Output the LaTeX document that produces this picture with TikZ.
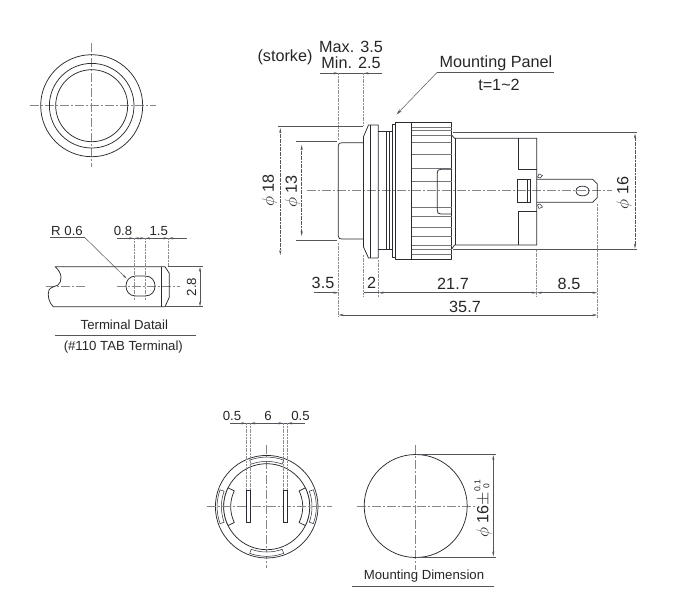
\documentclass[tikz,border=0pt]{standalone}
\usepackage{fontspec}
\setmainfont{Liberation Sans}
\usetikzlibrary{arrows.meta}
\definecolor{ink}{HTML}{2B2B33}
\definecolor{dimc}{HTML}{55555C}
\definecolor{cen}{HTML}{85858A}
\definecolor{ext}{HTML}{8E8E93}
\tikzset{
  x=1pt,y=-1pt,
  obj/.style={draw=ink,line width=0.75pt,line join=round},
  thinobj/.style={draw=ink,line width=0.5pt},
  ridge/.style={draw=ink!65,line width=0.6pt},
  center line/.style={draw=cen,line width=0.45pt,dash pattern=on 9pt off 2pt on 2pt off 2pt},
  extline/.style={draw=ext,line width=0.45pt,dash pattern=on 2pt off 0.7pt},
  dimline/.style={draw=dimc,line width=0.5pt},
  dimarrows/.style={dimline,{Stealth[length=5pt,width=2.2pt]}-{Stealth[length=5pt,width=2.2pt]}},
  dimend/.style={dimline,-{Stealth[length=5pt,width=2.2pt]}},
  lab/.style={inner sep=0pt,text=black!85,font=\fontsize{16.2}{18}\selectfont},
  smalllab/.style={inner sep=0pt,text=black!85,font=\fontsize{13.2}{15}\selectfont},
  rule/.style={draw=dimc,line width=0.55pt,double distance=0.9pt}
}
\begin{document}
\begin{tikzpicture}
\useasboundingbox (0,0) rectangle (680,598);
% ---- front view
\draw[center line] (30,105.7) -- (156,105.7);
\draw[center line] (91.7,43) -- (91.7,167);
\foreach \r in {51,42.3,36}{\draw[obj] (91.7,105.7) circle[radius=\r];}
% ---- main side view
\draw[center line] (307,190.7) -- (612,190.7);
% button
\draw[obj] (338.2,236) -- (338.2,146) .. controls (338.2,143.5) and (339.5,142.7) .. (342,142.7) -- (363.5,142.7);
\draw[obj] (338.2,236) .. controls (338.2,238.5) and (340,239) .. (342,239) -- (363.5,239);
% flange
\draw[obj] (363.5,136.7) -- (368.5,125) -- (378.3,125) -- (378.3,258) -- (368.5,258) -- (363.5,247) -- cycle;
\draw[thinobj] (370.5,125) -- (370.5,258);
% neck
\draw[obj] (378.3,131.7) -- (392.7,131.7);
\draw[obj] (378.3,249) -- (392.7,249);
\draw[thinobj] (386,131.7) -- (386,249);
\draw[thinobj] (389,131.7) -- (389,249);
% nut
\draw[obj] (392.7,124.5) -- (395,124.5) -- (395,122.7) -- (451.7,122.7) -- (451.7,259.3) -- (395,259.3) -- (395,257) -- (392.7,257) -- cycle;
\draw[obj] (395,122.7) -- (395,259.3);
\draw[obj] (411.7,122.7) -- (411.7,259.3);
\foreach \y in {127.3,130.7,135,142.7,154.3,168.3,181,207,216,227.3,236.7,245,249.3,254}{\draw[ridge] (411.7,\y) -- (451.7,\y);}
\draw[obj] (451.7,169.3) -- (441,169.3) .. controls (438,169.3) and (437.3,170.5) .. (437.3,173) -- (437.3,210) .. controls (437.3,213) and (438,214) .. (441,214) -- (451.7,214);
% body
\draw[obj] (451.7,135) -- (454.5,138.3) -- (536.7,138.3) -- (536.7,245) -- (454.5,245) -- (451.7,249);
\draw[thinobj] (455.5,138.3) -- (455.5,245);
\draw[thinobj] (518.3,138.3) -- (518.3,169) -- (536.7,169);
\draw[thinobj] (518.3,245) -- (518.3,211.7) -- (536.7,211.7);
\draw[thinobj] (517.3,179.3) rectangle (530,202);
\draw[thinobj] (527,179.3) -- (527,202);
% terminal
\draw[obj] (536.7,179.3) -- (592.7,179.3) -- (597.3,184) -- (597.3,197.5) -- (592.7,202.3) -- (536.7,202.3);
\draw[thinobj] (537.5,177) -- (539,174) -- (542.5,175.5) -- (540,178) -- cycle;
\draw[thinobj] (537.5,205) -- (539,208.5) -- (542.5,207) -- (540,204) -- cycle;
\draw[obj] (576,191) .. controls (576,184.5) and (589,184.5) .. (589,191) -- (589,191) .. controls (589,197.5) and (576,197.5) .. (576,191);
% stroke dim
\node[lab] (stk) at (285,57.5) {(storke)};
\node[lab] (maxv) at (351,47) {Max. 3.5};
\node[lab] (minv) at (351,62.5) {Min. 2.5};
\draw[dimline] (320,73.3) -- (382,73.3);
\draw[dimend] (326,73.3) -- (338.7,73.3);
\draw[dimend] (376,73.3) -- (363.5,73.3);
\draw[extline] (338.7,73.3) -- (338.7,140);
\draw[extline] (363.5,73.3) -- (363.5,126);
% mounting panel
\node[lab] (mp) at (496,63) {Mounting Panel};
\node[lab] (tv) at (499,84.5) {t=1\symbol{"007E}2};
\draw[dimline] (437,72.5) -- (554,72.5);
\draw[dimline,-{Stealth[length=6pt,width=3pt]}] (437,72.5) -- (396.5,114.5);
% phi 18 / 13 / 16
\draw[dimline] (278,126.7) -- (363,126.7);
\draw[dimline] (296,141.7) -- (337,141.7);
\draw[dimline] (296,240) -- (337,240);
\draw[dimline,dash pattern=on 2pt off 0.6pt,{Stealth[length=5pt,width=2.2pt]}-{Stealth[length=5pt,width=2.2pt]}] (280.3,128) -- (280.3,255);
\draw[dimline,dash pattern=on 2pt off 0.6pt,{Stealth[length=5pt,width=2.2pt]}-{Stealth[length=5pt,width=2.2pt]}] (301.7,145) -- (301.7,236);
\node[lab,rotate=90] (p18) at (269.5,190.5) {$\phi$ 18};
\node[lab,rotate=90] (p13) at (292.5,191.5) {$\phi$ 13};
\draw[dimline] (453,132.7) -- (637,132.7);
\draw[dimline] (453,249.3) -- (637,249.3);
\draw[dimarrows,dash pattern=on 2pt off 0.6pt] (635,133.5) -- (635,248.5);
\node[lab,rotate=90] (p16) at (624,193) {$\phi$ 16};
% lower dims
\draw[extline] (338.5,243) -- (338.5,317);
\draw[extline] (363.5,255) -- (363.5,297);
\draw[extline] (378.5,260) -- (378.5,297);
\draw[extline] (536.7,250) -- (536.7,297);
\draw[extline] (597.3,204) -- (597.3,318);
\draw[dimline] (314,292.7) -- (336,292.7);
\draw[dimend] (327,292.7) -- (338.5,292.7);
\draw[dimline] (363.5,292.7) -- (378.5,292.7);
\draw[dimarrows] (378.5,292.7) -- (536.7,292.7);
\draw[dimarrows] (536.7,292.7) -- (597.3,292.7);
\draw[dimarrows] (338.5,315) -- (597.3,315);
\node[lab] (d35) at (323,283) {3.5};
\node[lab] (d2) at (371.7,283) {2};
\node[lab] (d21) at (453,284) {21.7};
\node[lab] (d85) at (569,284) {8.5};
\node[lab] (d357) at (465,306.5) {35.7};
% ---- terminal detail
\draw[center line] (46,286.3) -- (87,286.3);
\draw[center line] (116.7,286.3) -- (180,286.3);
\draw[obj] (55,266.7) -- (165,266.7) -- (169.3,273.3) -- (169.3,297.3) -- (165,306.7) -- (53.3,306.7) .. controls (49,303) and (47,295) .. (49,290) .. controls (51,286.5) and (55,287) .. (58,285) .. controls (62,282) and (63,273) .. (55,266.7) -- cycle;
\draw[thinobj] (161.7,267) -- (161.7,306.7);
\draw[obj] (136,276) -- (145,276) .. controls (152,276) and (155,281) .. (155,286) .. controls (155,291) and (152,296) .. (145,296) -- (136,296) .. controls (129,296) and (126,291) .. (126,286) .. controls (126,281) and (129,276) .. (136,276) -- cycle;
\draw[dimline] (117,238.3) -- (187,238.3);
\draw[dimend] (122,238.3) -- (134,238.3);
\draw[dimarrows] (134,238.3) -- (145,238.3);
\draw[dimend] (158,238.3) -- (145,238.3);
\draw[dimend] (157,238.3) -- (168.3,238.3);
\draw[dimend] (180,238.3) -- (168.3,238.3);
\draw[extline] (134,238.3) -- (134,300);
\draw[extline] (145,238.3) -- (145,300);
\draw[extline] (168.3,238.3) -- (168.3,266);
\draw[dimline] (168,266.7) -- (203,266.7);
\draw[dimline] (165,306.7) -- (203,306.7);
\draw[dimarrows] (200,267) -- (200,306.5);
\node[smalllab] (r06) at (67,230.7) {R 0.6};
\draw[dimline] (50,237.7) -- (85,237.7);
\draw[dimline,-{Stealth[length=4pt,width=2pt]}] (85,237.7) -- (126.5,278.5);
\node[smalllab] (d08) at (123,231) {0.8};
\node[smalllab] (d15) at (158.7,231) {1.5};
\node[smalllab,rotate=90] (d28) at (191.7,287) {2.8};
\node[smalllab] (td) at (124.3,325) {Terminal Datail};
\draw[rule] (55,336) -- (196,336);
\node[smalllab] (tab) at (123.3,346.7) {(\#110 TAB Terminal)};
% ---- rear view
\draw[center line] (206.7,506.7) -- (331.7,506.7);
\draw[center line] (266.7,445) -- (266.7,568);
\draw[obj] (266.7,506.7) circle[radius=51.3];
\draw[obj] (266.7,506.7) circle[radius=43];
\foreach \a in {0,90,180,270}{
  \begin{scope}[shift={(266.7,506.7)},rotate=\a]
    \draw[thinobj,fill=white] plot[domain=70:110,samples=15] ({\x}:49.6) -- plot[domain=110:70,samples=15] ({\x}:45.3) -- cycle;
  \end{scope}
}
\foreach \s in {1,-1}{
  \begin{scope}[shift={(266.7,506.7)},xscale=\s]
    \draw[obj,fill=white] plot[domain=154:206,samples=20] ({\x}:43) -- plot[domain=206:154,samples=20] ({\x}:36) -- cycle;
  \end{scope}
}
\draw[center line] (206.7,506.7) -- (331.7,506.7);
\draw[thinobj,fill=white] (246.3,490) rectangle (250.3,522.3);
\draw[thinobj,fill=white] (283.3,490) rectangle (287.3,522.3);
\draw[dimline] (230,423.3) -- (305,423.3);
\draw[dimend] (238,423.3) -- (246.3,423.3);
\draw[dimend] (258,423.3) -- (250.3,423.3);
\draw[dimend] (275,423.3) -- (283.3,423.3);
\draw[dimend] (295,423.3) -- (287.3,423.3);
\foreach \x in {246.3,250.3,283.3,287.3}{\draw[extline] (\x,423.3) -- (\x,490);}
\node[smalllab] (b1) at (232,416) {0.5};
\node[smalllab] (b2) at (268,416) {6};
\node[smalllab] (b3) at (300.5,416) {0.5};
% ---- mounting dimension
\draw[center line] (356.7,506) -- (475,506);
\draw[center line] (415.7,445) -- (415.7,570);
\draw[obj] (415.7,506) circle[radius=51.5];
\draw[dimline] (416,454) -- (495.7,454);
\draw[dimline] (416,557.3) -- (495.7,557.3);
\draw[dimarrows] (493.3,455) -- (493.3,556.5);
\node[lab,rotate=90] (m16) at (483,509) {$\phi$ 16$\pm$\raisebox{-1pt}{\fontsize{8.5}{8.5}\selectfont\shortstack{0.1\\0}}};
\node[smalllab] (md) at (424,576) {Mounting Dimension};
\draw[rule] (352,585.5) -- (494,585.5);
\end{tikzpicture}
\end{document}
